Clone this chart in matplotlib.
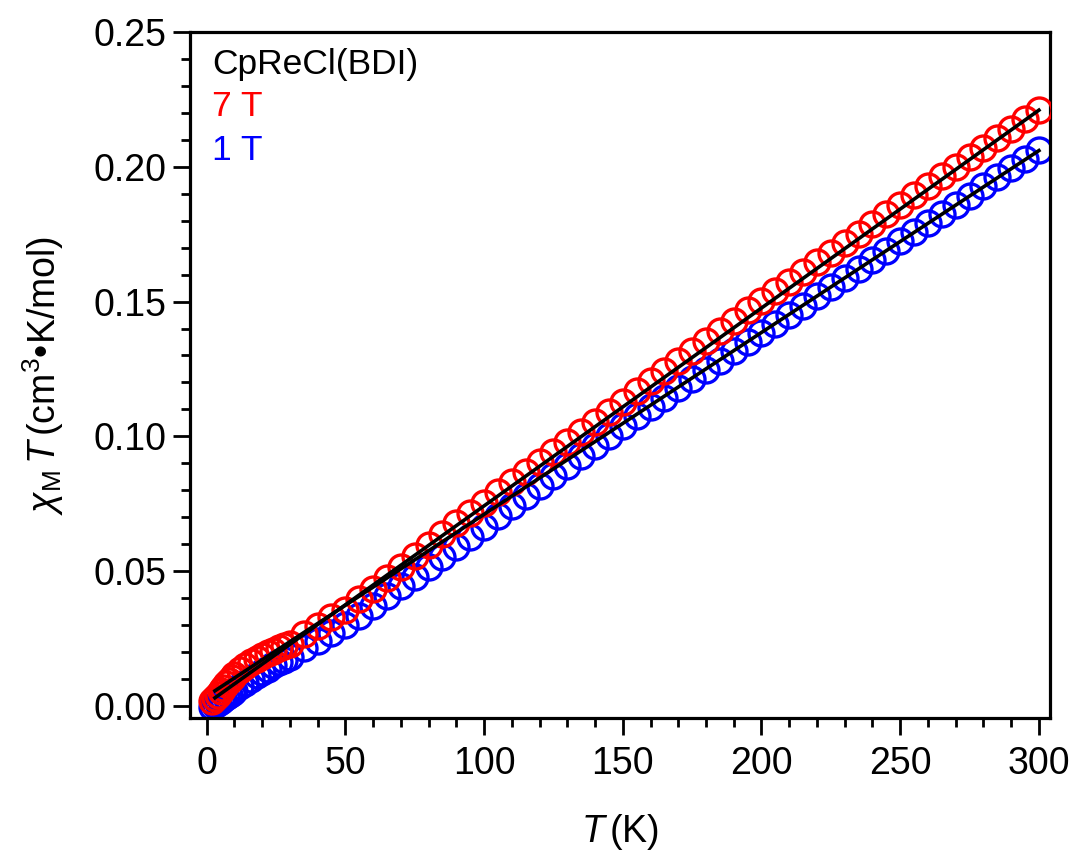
import numpy as np
import matplotlib
matplotlib.use("Agg")
import matplotlib.pyplot as plt
from matplotlib.ticker import MultipleLocator, FormatStrFormatter

plt.rcParams['font.family'] = ['Liberation Sans', 'DejaVu Sans']
plt.rcParams['mathtext.fontset'] = 'custom'
plt.rcParams['mathtext.rm'] = 'Liberation Sans'
plt.rcParams['mathtext.it'] = 'Liberation Sans:italic'

# temperatures (K)
temps = [2, 3, 4, 5, 6, 7, 8, 9, 10, 12, 14, 16, 18, 20, 22, 24, 26, 28, 30,
         35, 40, 45, 50, 55, 60, 65, 70, 75, 80, 85, 90, 95, 100,
         105, 110, 115, 120, 125, 130, 135, 140, 145, 150,
         155, 160, 165, 170, 175, 180, 185, 190, 195, 200,
         205, 210, 215, 220, 225, 230, 235, 240, 245, 250,
         255, 260, 265, 270, 275, 280, 285, 290, 295, 300]

# chi_M*T at 7 T
chiT_7T = [0.0020, 0.0030, 0.0042, 0.0055, 0.0068, 0.0080, 0.0092, 0.0103, 0.0113,
           0.0132, 0.0148, 0.0162, 0.0175, 0.0186, 0.0196, 0.0205, 0.0214, 0.0222, 0.0230,
           0.0265, 0.0297, 0.0328, 0.0357, 0.0395, 0.0435, 0.0475, 0.0515, 0.0556, 0.0597,
           0.0637, 0.0677, 0.0716, 0.0754,
           0.0792, 0.0829, 0.0867, 0.0904, 0.0942, 0.0979, 0.1017, 0.1054, 0.1092, 0.1129,
           0.1167, 0.1204, 0.1242, 0.1279, 0.1317, 0.1354, 0.1392, 0.1429, 0.1467, 0.1503,
           0.1539, 0.1574, 0.1610, 0.1645, 0.1681, 0.1716, 0.1752, 0.1787, 0.1823, 0.1858,
           0.1894, 0.1929, 0.1965, 0.2000, 0.2036, 0.2071, 0.2106, 0.2141, 0.2177, 0.2212]

# chi_M*T at 1 T
chiT_1T = [-0.0005, 0.0002, 0.0009, 0.0017, 0.0025, 0.0033, 0.0041, 0.0049, 0.0057,
           0.0072, 0.0086, 0.0100, 0.0113, 0.0126, 0.0138, 0.0150, 0.0161, 0.0172, 0.0183,
           0.0213, 0.0241, 0.0270, 0.0300, 0.0335, 0.0371, 0.0407, 0.0443, 0.0479, 0.0516,
           0.0553, 0.0590, 0.0627, 0.0665,
           0.0703, 0.0741, 0.0779, 0.0816, 0.0854, 0.0891, 0.0928, 0.0965, 0.1002, 0.1039,
           0.1074, 0.1109, 0.1144, 0.1179, 0.1213, 0.1247, 0.1281, 0.1315, 0.1349, 0.1383,
           0.1417, 0.1451, 0.1485, 0.1519, 0.1553, 0.1587, 0.1621, 0.1655, 0.1689, 0.1723,
           0.1757, 0.1791, 0.1825, 0.1859, 0.1893, 0.1927, 0.1961, 0.1995, 0.2028, 0.2062]

# linear fits
fit_T = [3, 300]
fit_7T = [0.0030, 0.2210]
fit_1T = [0.0056, 0.2060]

fig = plt.figure(figsize=(10.71, 8.55), dpi=100)
ax = fig.add_axes([0.1774, 0.1602, 0.8030, 0.8024])

ax.plot(temps, chiT_1T, 'o', mfc='none', mec='#0000ff', ms=18, mew=2.4, zorder=2)
ax.plot(temps, chiT_7T, 'o', mfc='none', mec='#ff0000', ms=18, mew=2.4, zorder=3)
ax.plot(fit_T, fit_7T, '-', color='black', lw=2.6, zorder=4)
ax.plot(fit_T, fit_1T, '-', color='black', lw=2.6, zorder=4)

ax.set_xlim(-6, 304)
ax.set_ylim(-0.0045, 0.25)

ax.xaxis.set_major_locator(MultipleLocator(50))
ax.xaxis.set_minor_locator(MultipleLocator(10))
ax.yaxis.set_major_locator(MultipleLocator(0.05))
ax.yaxis.set_minor_locator(MultipleLocator(0.01))
ax.yaxis.set_major_formatter(FormatStrFormatter('%.2f'))

ax.tick_params(which='major', direction='out', length=12, width=2.0, labelsize=27, pad=5)
ax.tick_params(which='minor', direction='out', length=6.5, width=2.0)
ax.tick_params(axis='x', which='major', pad=8)
for s in ax.spines.values():
    s.set_linewidth(2.3)

ax.set_xlabel(r'$T\,$(K)', fontsize=27, labelpad=22)
ax.set_ylabel(r'$\chi_\mathrm{M}\,T\,$(cm$^3$•K/mol)', fontsize=27, labelpad=20)

ax.text(0.026, 0.977, 'CpReCl(BDI)', transform=ax.transAxes, fontsize=25.5,
        va='top', ha='left', color='black')
ax.text(0.026, 0.915, '7 T', transform=ax.transAxes, fontsize=25.5,
        va='top', ha='left', color='#ff0000')
ax.text(0.026, 0.851, '1 T', transform=ax.transAxes, fontsize=25.5,
        va='top', ha='left', color='#0000ff')

fig.savefig('out.png', dpi=100)
